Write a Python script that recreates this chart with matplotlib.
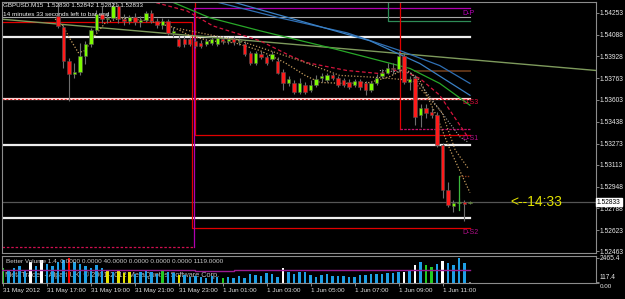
import matplotlib
matplotlib.use("Agg")
import matplotlib.pyplot as plt
import matplotlib.transforms as mtransforms
import numpy as np

plt.rcParams['font.family'] = ['Liberation Sans', 'DejaVu Sans']

# GBPUSD M15, 31 May 2012 15:00 -> 1 Jun 2012 12:15 (one entry per bar)
opens = [1.5441, 1.5439, 1.5441, 1.5443, 1.5441, 1.5440, 1.5443, 1.5445, 1.5439, 1.5438,
         1.54231, 1.54149, 1.53895, 1.53798, 1.53813, 1.53933, 1.54022, 1.54126, 1.54246, 1.54208,
         1.54216, 1.54305, 1.54208, 1.54193, 1.54223, 1.54186, 1.54201, 1.54253, 1.54193, 1.54163,
         1.54193, 1.54104, 1.54059, 1.54059, 1.54059, 1.54044, 1.54029, 1.54022, 1.54029, 1.54022,
         1.54059, 1.54044, 1.54059, 1.54037, 1.54022, 1.53955, 1.53880, 1.53948, 1.53925, 1.53910,
         1.53895, 1.53813, 1.53724, 1.53724, 1.53657, 1.53709, 1.53672, 1.53709, 1.53761, 1.53746,
         1.53784, 1.53761, 1.53746, 1.53731, 1.53709, 1.53739, 1.53724, 1.53672, 1.53724, 1.53776,
         1.53806, 1.53843, 1.53836, 1.53933, 1.53731, 1.53761, 1.53486, 1.53538, 1.53508, 1.53486,
         1.53262, 1.52927, 1.52807, 1.52830, 1.52837, 1.52830]
highs = [1.5444, 1.5442, 1.5445, 1.5446, 1.5443, 1.5444, 1.5447, 1.5446, 1.5441, 1.5440,
         1.54350, 1.54163, 1.53918, 1.53880, 1.54029, 1.54044, 1.54141, 1.54275, 1.54305, 1.54253,
         1.54335, 1.54320, 1.54246, 1.54238, 1.54253, 1.54231, 1.54268, 1.54275, 1.54216, 1.54216,
         1.54208, 1.54149, 1.54089, 1.54082, 1.54074, 1.54067, 1.54052, 1.54059, 1.54074, 1.54082,
         1.54082, 1.54074, 1.54082, 1.54067, 1.54044, 1.53970, 1.53970, 1.53970, 1.53940, 1.53970,
         1.53925, 1.53836, 1.53776, 1.53746, 1.53761, 1.53731, 1.53746, 1.53784, 1.53806, 1.53806,
         1.53806, 1.53776, 1.53761, 1.53754, 1.53754, 1.53754, 1.53739, 1.53739, 1.53791, 1.53836,
         1.53880, 1.53880, 1.53970, 1.53955, 1.53776, 1.53784, 1.53567, 1.53567, 1.53538, 1.53508,
         1.53277, 1.52986, 1.52852, 1.52867, 1.52852, 1.52842]
lows = [1.5438, 1.5437, 1.5439, 1.5440, 1.5438, 1.5437, 1.5441, 1.5438, 1.5436, 1.5436,
        1.54141, 1.53843, 1.53590, 1.53768, 1.53784, 1.53873, 1.54000, 1.54111, 1.54178, 1.54178,
        1.54201, 1.54178, 1.54163, 1.54171, 1.54163, 1.54149, 1.54186, 1.54178, 1.54141, 1.54133,
        1.54089, 1.54074, 1.54000, 1.54000, 1.54007, 1.53992, 1.53992, 1.54007, 1.54015, 1.54007,
        1.54022, 1.54022, 1.54015, 1.54015, 1.53933, 1.53865, 1.53865, 1.53910, 1.53865, 1.53895,
        1.53791, 1.53672, 1.53702, 1.53642, 1.53642, 1.53642, 1.53657, 1.53694, 1.53731, 1.53731,
        1.53746, 1.53694, 1.53694, 1.53679, 1.53694, 1.53672, 1.53635, 1.53657, 1.53709, 1.53761,
        1.53791, 1.53798, 1.53821, 1.53716, 1.53672, 1.53411, 1.53396, 1.53463, 1.53463, 1.53247,
        1.52867, 1.52800, 1.52756, 1.52807, 1.52688, 1.52821]
closes = [1.5439, 1.5441, 1.5443, 1.5441, 1.5440, 1.5443, 1.5445, 1.5439, 1.5438, 1.5437,
          1.54156, 1.53895, 1.53798, 1.53813, 1.53933, 1.54022, 1.54126, 1.54246, 1.54208, 1.54216,
          1.54305, 1.54208, 1.54193, 1.54223, 1.54186, 1.54201, 1.54253, 1.54193, 1.54163, 1.54193,
          1.54104, 1.54119, 1.54007, 1.54022, 1.54022, 1.54007, 1.54007, 1.54044, 1.54059, 1.54067,
          1.54044, 1.54059, 1.54037, 1.54044, 1.53948, 1.53880, 1.53955, 1.53925, 1.53880, 1.53948,
          1.53806, 1.53724, 1.53754, 1.53657, 1.53724, 1.53657, 1.53709, 1.53754, 1.53776, 1.53784,
          1.53761, 1.53709, 1.53709, 1.53694, 1.53739, 1.53694, 1.53672, 1.53724, 1.53768, 1.53806,
          1.53843, 1.53836, 1.53933, 1.53731, 1.53754, 1.53471, 1.53538, 1.53500, 1.53486, 1.53262,
          1.52927, 1.52815, 1.52830, 1.52837, 1.52822, 1.52833]

# Better Volume histogram
volumes = [1479, 1282, 1479, 1676, 1282, 2071, 1676, 2268, 1873, 1676,
           2071, 2268, 2465, 2071, 1873, 1676, 1479, 1775, 1479, 1183,
           1085, 1183, 986, 1085, 887, 1085, 1183, 1085, 887, 1282,
           1085, 986, 789, 789, 592, 690, 592, 493, 690, 592,
           493, 592, 493, 690, 493, 887, 789, 690, 986, 887,
           592, 1479, 1085, 887, 1085, 1085, 789, 592, 789, 887,
           690, 690, 690, 592, 592, 789, 789, 887, 887, 887,
           986, 986, 1085, 1085, 1183, 1775, 2071, 1775, 1578, 1873,
           2169, 1972, 1775, 2465, 1972, 100]
vol_kind = list("gbbbbwbwbb" "bbrbbbbbby" "byyybbbbbg" "bbybbbbbbb"
                "gbbbbbbbbb" "bwbbbbbbbb" "bbbbbbbbbb" "bbbwbwbggb" "wbbbbk")
vol_ma_x = [-0.2, 35, 35, 42, 42, 85]
vol_ma_y = [1290, 1290, 1190, 1190, 1260, 1260]

price_ticks = [1.54253, 1.54088, 1.53928, 1.53763, 1.53603, 1.53438, 1.53273,
               1.53113, 1.52948, 1.52788, 1.52623, 1.52463]
time_ticks = [0, 8, 16, 24, 32, 40, 48, 56, 64, 72, 80]
time_labels = ["31 May 2012", "31 May 17:00", "31 May 19:00", "31 May 21:00",
               "31 May 23:00", "1 Jun 01:00", "1 Jun 03:00", "1 Jun 05:00",
               "1 Jun 07:00", "1 Jun 09:00", "1 Jun 11:00"]
bid = 1.52833

# horizontal levels
white_levels = [1.54074, 1.53262, 1.52714]
pink_level = 1.53605
grey_level = 1.54223

# moving averages (bar index, price)
green_ma_x = [26.8, 30.4, 37.7, 46.8, 59.5, 68.6, 74.1, 79.5, 85.0]
green_ma_y = [1.5438, 1.54342, 1.54216, 1.54119, 1.53992, 1.53895, 1.53836, 1.53724, 1.53560]
blue1_x = [36.0, 38.2, 50.4, 62.6, 72.3, 79.5, 85.0]
blue1_y = [1.5437, 1.54342, 1.54216, 1.54104, 1.53970, 1.53858, 1.53724]
blue2_x = [39.0, 41.3, 54.1, 66.8, 75.9, 85.0]
blue2_y = [1.5437, 1.54342, 1.54193, 1.54044, 1.53873, 1.53635]
red_ma_x = [26.8, 33.5, 38.2, 46.8, 52.2, 55.3, 62.6, 68.6, 72.3, 75.9, 79.5, 84.6]
red_ma_y = [1.54342, 1.54268, 1.54156, 1.54044, 1.53933, 1.53880, 1.53821, 1.53798,
            1.53828, 1.53761, 1.53635, 1.53322]
tan1_x = [9.5, 10.9, 12.2, 13.7, 14.9, 16.7, 18.6, 21.3, 26.8, 31.3, 34.0, 37.7, 42.2,
          46.8, 51.3, 55.0, 57.7, 62.2, 66.8, 70.4, 73.2, 75.9, 79.0, 81.4, 85.0]
tan1_y = [1.54208, 1.54156, 1.54059, 1.53955, 1.53970, 1.54082, 1.54178, 1.54216, 1.54193,
          1.54141, 1.54082, 1.54044, 1.54029, 1.53970, 1.53880, 1.53784, 1.53731, 1.53724,
          1.53731, 1.53776, 1.53836, 1.53746, 1.53471, 1.53225, 1.52904]
tan2_x = [32.2, 43.1, 54.1, 61.3, 68.6, 74.6, 79.9, 82.3, 84.6]
tan2_y = [1.54134, 1.54044, 1.53895, 1.53784, 1.53768, 1.53746, 1.53508, 1.53225, 1.53091]
grey_ma_x = [68.6, 74.1, 76.4, 83.2, 84.6]
grey_ma_y = [1.53821, 1.53806, 1.53694, 1.53322, 1.53284]
olive_x = [-0.2, 108.0]
olive_y = [1.54206, 1.53821]

fig = plt.figure(figsize=(6.25, 2.99), dpi=100, facecolor='black')
ax = fig.add_axes([2 / 625, 1 - 253 / 299, 594 / 625, 251.5 / 299])
axv = fig.add_axes([2 / 625, 1 - 283 / 299, 594 / 625, 27 / 299])

for a in (ax, axv):
    a.set_facecolor('black')
    a.set_xlim(-0.18, 107.94)
    for s in a.spines.values():
        s.set_color('#8c8c8c')
        s.set_linewidth(0.8)

ax.set_ylim(1.52451, 1.54339)

# levels
for lv in white_levels:
    ax.plot([-0.2, 85], [lv, lv], color='#eeeeee', lw=1.6, zorder=2)
ax.plot([-0.2, 85], [pink_level, pink_level], color='#ffd0d0', lw=1.6, zorder=2)
ax.plot([-0.2, 85], [pink_level, pink_level], color='#e02020', lw=0.7, ls=(0, (2, 2)), zorder=2)
ax.plot([-0.2, 85], [grey_level, grey_level], color='#a8a8a8', lw=0.8, zorder=2)
ax.axhline(bid, color='#555555', lw=0.9, zorder=2)

# daily pivot steps
ax.plot([-0.2, 34.4, 34.4, 85], [1.54186, 1.54186, 1.52636, 1.52636], color='#e00000', lw=0.9, zorder=2)
ax.plot([35, 35, 85], [1.5440, 1.53337, 1.53337], color='#e00000', lw=0.9, zorder=2)
ax.plot([-0.2, 34.7], [1.52495, 1.52495], color='#d01050', lw=0.9, ls=(0, (2, 1.5)), zorder=2)
ax.plot([34.7, 34.7, 85], [1.52495, 1.54290, 1.54290], color='#b000b0', lw=0.9, zorder=2)
ax.plot([70.1, 70.1, 85], [1.5440, 1.54193, 1.54193], color='#2e8b57', lw=0.9, zorder=2)
ax.plot([72.3, 72.3], [1.5440, 1.53381], color='#e00000', lw=0.9, zorder=2)
ax.plot([72.3, 85], [1.53381, 1.53381], color='#c0106a', lw=0.9, ls=(0, (2, 1)), zorder=2)
ax.plot([75, 85], [1.53821, 1.53821], color='#5c3317', lw=1.4, zorder=2)
ax.plot([83, 85], [1.53031, 1.53031], color='#8b3a1a', lw=1.0, ls=(0, (1, 1)), zorder=2)
ax.plot([83, 83], [1.53031, 1.52771], color='#3cb83c', lw=0.9, zorder=6)

# moving averages
ax.plot(olive_x, olive_y, color='#7e9a5c', lw=1.0, zorder=2)
ax.plot(green_ma_x, green_ma_y, color='#28a828', lw=0.9, zorder=2)
ax.plot(blue1_x, blue1_y, color='#2f6fb4', lw=0.9, zorder=2)
ax.plot(blue2_x, blue2_y, color='#3a80c4', lw=0.9, zorder=2)
ax.plot(red_ma_x, red_ma_y, color='#d4143c', lw=0.9, ls=(0, (3, 2)), zorder=2)
ax.plot(tan1_x, tan1_y, color='#c8a060', lw=0.9, ls=(0, (1, 1.5)), zorder=2)
ax.plot(tan2_x, tan2_y, color='#b89058', lw=0.9, ls=(0, (1, 1.5)), zorder=2)
ax.plot(grey_ma_x, grey_ma_y, color='#a0a0a0', lw=0.8, ls=(0, (1, 1.5)), zorder=2)

# candles
o = np.array(opens)
h = np.array(highs)
l = np.array(lows)
c = np.array(closes)
xb = np.arange(len(o))
bull = c >= o
ax.vlines(xb, l, h, color='#6e6e6e', lw=0.8, zorder=3)
body = np.maximum(np.abs(c - o), 0.00003)
ax.bar(xb, body, bottom=np.minimum(o, c), width=0.62,
       color=np.where(bull, '#7cfc00', '#ff1a1a'), edgecolor='#505050', lw=0.4, zorder=4)

# labels for the levels
lab = dict(fontsize=5, va='center', ha='left', zorder=7)
ax.text(83.7, 1.54250, 'D-P', color='#c000c0', **lab)
ax.text(83.7, 1.53582, 'D-S3', color='#e0103c', **lab)
ax.text(83.7, 1.53307, 'D-S1', color='#b0108a', **lab)
ax.text(83.7, 1.52607, 'D-S2', color='#b0108a', **lab)
ax.text(92.3, bid, '<--14:33', color='#e0e000', fontsize=10, va='center', ha='left', zorder=7)

# price scale
ax.yaxis.tick_right()
ax.set_yticks(price_ticks)
ax.set_yticklabels(['%.5f' % p for p in price_ticks])
ax.tick_params(axis='y', labelcolor='#e8e8e8', color='#9a9a9a', length=2, width=0.6,
               labelsize=4.8, pad=0.8)
ax.set_xticks([])
tr = mtransforms.blended_transform_factory(ax.transAxes, ax.transData)
ax.text(1.0017, bid, '%.5f' % bid, transform=tr, fontsize=4.8, color='black', va='center',
        ha='left', zorder=8, clip_on=False,
        bbox=dict(boxstyle='square,pad=0.12', fc='white', ec='white'))

# volume panel
vcolors = {'b': '#1ea0e6', 'w': '#ffffff', 'y': '#e6e600', 'g': '#22cc22', 'r': '#ff0000', 'k': '#808080'}
axv.text(0.005, 0.3, 'MetaTrader - Alpari UK, \u00a9 2001-2012 MetaQuotes Software Corp.',
         transform=axv.transAxes, fontsize=5.3, color='#bdbdbd', va='center', zorder=1)
axv.bar(xb, volumes, width=0.45, color=[vcolors[k] for k in vol_kind], zorder=2)
axv.plot(vol_ma_x, vol_ma_y, color='#9b1b8f', lw=1.0, zorder=3)
axv.text(0.006, 0.78, 'Better Volume 1.4  0.0000 0.0000 40.0000 0.0000 0.0000 0.0000 1119.0000',
         transform=axv.transAxes, fontsize=4.6, color='#c8c8c8', va='center', zorder=4)
axv.set_ylim(0, 2662)
axv.yaxis.tick_right()
axv.set_yticks([0, 117.4, 2465.4])
axv.set_yticklabels(['', '', '2465.4'])
axv.tick_params(axis='y', labelcolor='#e8e8e8', color='#9a9a9a', length=2, width=0.6,
                labelsize=4.8, pad=0.8)
trv = mtransforms.blended_transform_factory(axv.transAxes, axv.transData)
axv.text(1.006, 560, '117.4', transform=trv, fontsize=4.8, color='#e8e8e8', va='center',
         ha='left', clip_on=False)
axv.text(1.006, -330, '0.00', transform=trv, fontsize=4.5, color='#e8e8e8', va='center',
         ha='left', clip_on=False)
axv.set_xticks(time_ticks)
axv.set_xticklabels(time_labels, ha='left')
axv.tick_params(axis='x', labelcolor='#e0e0e0', color='#9a9a9a', length=2, width=0.6,
                labelsize=4.6, pad=1.5)

# header
fig.text(3 / 625, 1 - 5.5 / 299, 'GBPUSD.M15  1.52830 1.52842 1.52821 1.52833',
         fontsize=4.5, color='#f0f0f0', va='center', ha='left')
fig.text(3 / 625, 1 - 14.5 / 299, '14 minutes 33 seconds left to bar end',
         fontsize=4.6, color='#f0f0f0', va='center', ha='left')

fig.savefig('out.png', dpi=100, facecolor='black')
